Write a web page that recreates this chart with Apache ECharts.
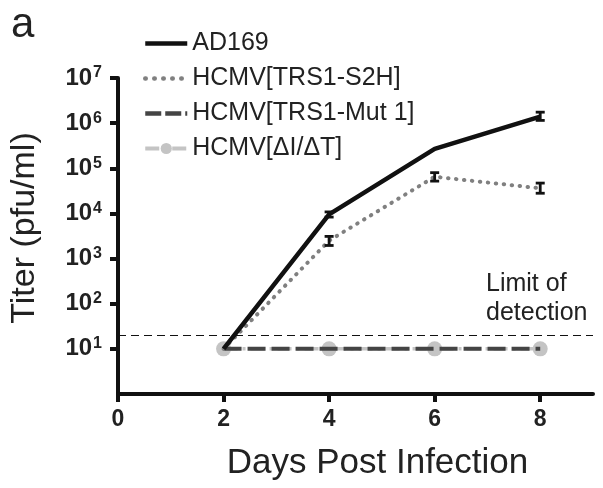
<!DOCTYPE html>
<html><head><meta charset="utf-8">
<script src="https://cdn.jsdelivr.net/npm/echarts@6/dist/echarts.min.js"></script>
<style>html,body{margin:0;padding:0;background:#fff}#c{width:603px;height:488px}</style>
</head><body><div id="c"></div>
<script>
const days = [2, 4, 6, 8];
const seriesNames = ['AD169', 'HCMV[TRS1-S2H]', 'HCMV[TRS1-Mut 1]', 'HCMV[ΔI/ΔT]'];
const ad169 = [10, 9500, 270000, 1400000];
const s2h = [10, 2500, 65000, 36000];
const mut1 = [10, 10, 10, 10];
const didt = [10, 10, 10, 10];
const ad169Err = [[4, 8300, 10800], [8, 1150000, 1750000]];
const s2hErr = [[4, 1950, 3100], [6, 52000, 80000], [8, 28000, 47000]];
const xTicks = [0, 2, 4, 6, 8];
const yTicks = [10, 100, 1000, 10000, 100000, 1000000, 10000000];
const limitOfDetection = 20;

const FONT = '"Liberation Sans", Arial, sans-serif';
const chart = echarts.init(document.getElementById('c'));
const pairs = a => days.map((d, i) => [d, a[i]]);
function errRender(params, api) {
  const x = api.value(0), lo = api.value(1), hi = api.value(2);
  const pLo = api.coord([x, lo]), pHi = api.coord([x, hi]);
  const w = 4.5;
  const st = {stroke: '#111', lineWidth: 2.8};
  return {type: 'group', children: [
    {type: 'line', shape: {x1: pLo[0], y1: pLo[1], x2: pHi[0], y2: pHi[1]}, style: st},
    {type: 'line', shape: {x1: pLo[0]-w, y1: pLo[1], x2: pLo[0]+w, y2: pLo[1]}, style: st},
    {type: 'line', shape: {x1: pHi[0]-w, y1: pHi[1], x2: pHi[0]+w, y2: pHi[1]}, style: st}
  ]};
}
const noSym = {opacity: 0};
chart.setOption({
  animation: false,
  textStyle: {fontFamily: FONT},
  grid: {left: 116, right: 10, top: 78, bottom: 94},
  legend: {
    orient: 'vertical', left: 138, top: 26, itemWidth: 42, itemHeight: 14, itemGap: 10,
    data: [
      {name: seriesNames[0], itemStyle: noSym, lineStyle: {width: 4.5}},
      {name: seriesNames[1], itemStyle: noSym, lineStyle: {width: 4.5, type: [0.5, 8.5], cap: 'round'}},
      {name: seriesNames[2], itemStyle: noSym, lineStyle: {width: 4.5, type: [16, 4]}},
      {name: seriesNames[3], lineStyle: {width: 4}}
    ],
    textStyle: {fontFamily: FONT, fontSize: 25, color: '#222'}
  },
  graphic: [
    {type: 'text', left: 11, top: 4, style: {text: 'a', font: '42px ' + FONT, fill: '#222'}},
    {type: 'text', left: 486, top: 270, style: {text: 'Limit of\ndetection', font: '25px ' + FONT, fill: '#222', lineHeight: 29}}
  ],
  xAxis: {
    type: 'value', min: 0, max: 9, interval: 2,
    name: 'Days Post Infection', nameLocation: 'middle', nameGap: 52,
    nameTextStyle: {fontFamily: FONT, fontSize: 35, color: '#222', padding: [0, 0, 0, 44]},
    axisLine: {lineStyle: {color: '#111', width: 4}},
    axisTick: {length: 8, lineStyle: {width: 4, color: '#111'}, customValues: xTicks},
    axisLabel: {fontSize: 23, fontWeight: 'bold', color: '#222', margin: 14, customValues: xTicks},
    splitLine: {show: false}
  },
  yAxis: {
    type: 'log', logBase: 10, min: 1, max: 10000000,
    name: 'Titer (pfu/ml)', nameLocation: 'middle', nameGap: 76,
    nameTextStyle: {fontFamily: FONT, fontSize: 34, color: '#222', padding: [0, 0, 0, 16]},
    axisLine: {lineStyle: {color: '#111', width: 4}},
    axisTick: {length: 8, lineStyle: {width: 4, color: '#111'}, customValues: yTicks},
    axisLabel: {
      customValues: yTicks, margin: 16,
      formatter: v => { const e = Math.round(Math.log10(v)); return e < 1 ? '' : '{b|10}{s|' + e + '}'; },
      rich: {
        b: {fontFamily: FONT, fontSize: 24, fontWeight: 'bold', color: '#222'},
        s: {fontFamily: FONT, fontSize: 16, fontWeight: 'bold', color: '#222', verticalAlign: 'top', padding: [0, 0, 10, 1]}
      }
    },
    splitLine: {show: false}
  },
  series: [
    {name: seriesNames[3], type: 'line', data: pairs(didt), z: 1,
     symbol: 'circle', symbolSize: 15, itemStyle: {color: '#c4c4c4'},
     lineStyle: {color: '#c4c4c4', width: 3.5, type: [14, 5, 3, 5]}},
    {name: seriesNames[2], type: 'line', data: pairs(mut1), z: 2, symbol: 'none',
     itemStyle: {color: '#444'},
     lineStyle: {color: '#444', width: 4, type: [18, 6]}},
    {name: seriesNames[1], type: 'line', data: pairs(s2h), z: 3, symbol: 'none',
     itemStyle: {color: '#808080'},
     lineStyle: {color: '#808080', width: 4, type: [0.5, 7.5], cap: 'round'},
     markLine: {silent: true, symbol: 'none', label: {show: false},
       lineStyle: {color: '#111', width: 1.2, type: [8, 5]}, data: [{yAxis: limitOfDetection}]}},
    {name: seriesNames[0], type: 'line', data: pairs(ad169), z: 4, symbol: 'none',
     itemStyle: {color: '#111'}, lineStyle: {color: '#111', width: 4.5}},
    {type: 'custom', renderItem: errRender, data: ad169Err, z: 5},
    {type: 'custom', renderItem: errRender, data: s2hErr, z: 5}
  ]
});
</script></body></html>
